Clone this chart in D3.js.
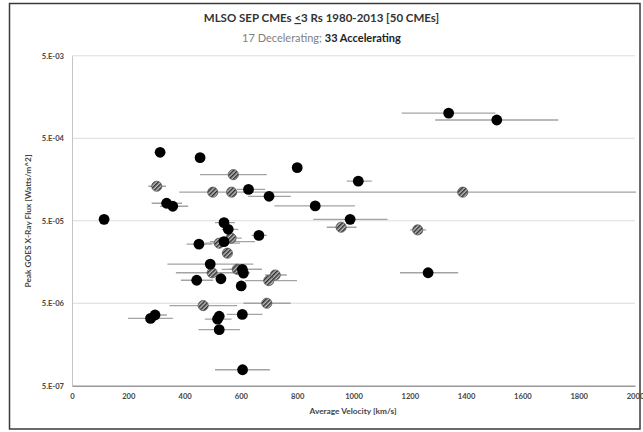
<!DOCTYPE html>
<html><head><meta charset="utf-8">
<script src="https://cdn.jsdelivr.net/npm/d3@7"></script>
<style>body{margin:0;background:#fff} svg{display:block}</style>
</head><body><svg id="c" width="643" height="432"></svg>
<script>
// Accelerating CMEs (black)
const accVel  = [313,455,800,1017,627,700,864,336,358,114,540,555,988,664,451,540,491,605,609,529,443,601,295,279,605,523,517,523,606,1265,1338,1509];
const accFlux = [3.38e-4,2.91e-4,2.20e-4,1.51e-4,1.20e-4,9.9e-5,7.56e-5,8.15e-5,7.5e-5,5.2e-5,4.74e-5,3.94e-5,5.2e-5,3.32e-5,2.6e-5,2.79e-5,1.49e-5,1.29e-5,1.16e-5,9.9e-6,9.5e-6,8.1e-6,3.6e-6,3.27e-6,3.66e-6,3.48e-6,3.21e-6,2.39e-6,7.8e-7,1.17e-5,1.01e-3,8.33e-4];
const accLo   = [null,null,null,976,586,626,719,283,313,null,508,532,857,638,407,490,339,554,null,null,387,null,270,199,550,null,472,449,508,1165,1171,1290];
const accHi   = [null,null,null,1065,686,777,1005,391,413,null,579,591,1121,692,497,650,644,675,null,null,502,null,337,358,677,null,567,597,703,1372,1504,1728];
// Decelerating CMEs (hatched)
const decVel  = [573,301,500,567,1388,956,1228,565,523,552,587,498,722,699,466,692];
const decFlux = [1.81e-4,1.31e-4,1.11e-4,1.11e-4,1.11e-4,4.17e-5,3.87e-5,3.07e-5,2.67e-5,2.02e-5,1.29e-5,1.17e-5,1.10e-5,9.4e-6,4.68e-6,5.0e-6];
const decLo   = [455,271,null,null,381,905,1201,526,472,null,532,369,686,615,346,609];
const decHi   = [692,334,null,null,2395,1011,1258,603,597,null,674,632,763,799,587,777];
// Axes
const xTicks = [0,200,400,600,800,1000,1200,1400,1600,1800,2000];
const yTicks = [5e-7,5e-6,5e-5,5e-4,5e-3];
const yTickLabels = ["5.E-07","5.E-06","5.E-05","5.E-04","5.E-03"];

const acc = accVel.map((v,i)=>({v, f:accFlux[i], lo:accLo[i], hi:accHi[i]}));
const dec = decVel.map((v,i)=>({v, f:decFlux[i], lo:decLo[i], hi:decHi[i]}));

const svg = d3.select("#c");
const font = "Lato, 'Open Sans', sans-serif";
const L=72, R=635, T=55.8, B=385.7;
const x = d3.scaleLinear().domain([0,2000]).range([L,R]);
const y = d3.scaleLog().domain([5e-7,5e-3]).range([B,T]);

svg.append("rect").attr("x",0).attr("y",0).attr("width",643).attr("height",432).attr("fill","#fff");
svg.append("rect").attr("x",9.5).attr("y",3.5).attr("width",630.5).attr("height",425.5)
  .attr("fill","none").attr("stroke","#3a3a3a").attr("stroke-width",1.5);

const defs = svg.append("defs");
const pat = defs.append("pattern").attr("id","hatch").attr("patternUnits","userSpaceOnUse")
  .attr("width",3).attr("height",3).attr("patternTransform","rotate(45)");
pat.append("rect").attr("width",3).attr("height",3).attr("fill","#bdbdbd");
pat.append("rect").attr("width",1.5).attr("height",3).attr("fill","#303030");
defs.append("clipPath").attr("id","plot").append("rect").attr("x",L).attr("y",T-2).attr("width",R-L+1).attr("height",B-T+4);

// gridlines
svg.append("g").selectAll("line").data(yTicks.slice(1)).join("line")
  .attr("x1",L).attr("x2",R).attr("y1",d=>y(d)).attr("y2",d=>y(d))
  .attr("stroke","#dcdcdc").attr("stroke-width",1);

// axes
const yAxis = svg.append("g").attr("transform",`translate(${L},0)`)
  .call(d3.axisLeft(y).tickValues(yTicks).tickFormat((d,i)=>yTickLabels[i]).tickSize(0).tickPadding(8));
yAxis.select(".domain").attr("stroke","#c4c4c4").attr("stroke-width",1);
const xAxis = svg.append("g").attr("transform",`translate(0,${B})`)
  .call(d3.axisBottom(x).tickValues(xTicks).tickFormat(d3.format("d")).tickSize(0).tickPadding(8));
xAxis.select(".domain").attr("stroke","#9a9a9a").attr("stroke-width",1.5);
svg.selectAll(".tick text").attr("font-family",font).attr("font-size",7.6).attr("font-weight","bold").attr("fill","#454545");

// error bars
const bars = svg.append("g").attr("clip-path","url(#plot)");
bars.selectAll("line").data(acc.concat(dec).filter(d=>d.lo!=null)).join("line")
  .attr("x1",d=>x(d.lo)).attr("x2",d=>x(d.hi)).attr("y1",d=>y(d.f)).attr("y2",d=>y(d.f))
  .attr("stroke","#a3a3a3").attr("stroke-width",1.3);

// markers
svg.append("g").selectAll("circle").data(dec).join("circle")
  .attr("cx",d=>x(d.v)).attr("cy",d=>y(d.f)).attr("r",5.1)
  .attr("fill","url(#hatch)").attr("stroke","#4a4a4a").attr("stroke-width",0.7);
svg.append("g").selectAll("circle").data(acc).join("circle")
  .attr("cx",d=>x(d.v)).attr("cy",d=>y(d.f)).attr("r",5.4).attr("fill","#000");

// titles
const t = svg.append("text").attr("x",321.5).attr("y",22).attr("text-anchor","middle")
  .attr("font-family",font).attr("font-size",11.5).attr("font-weight","bold").attr("fill","#333");
t.append("tspan").text("MLSO SEP CMEs ");
t.append("tspan").attr("text-decoration","underline").text("<");
t.append("tspan").text("3 Rs 1980-2013 [50 CMEs]");
const s = svg.append("text").attr("x",321.5).attr("y",42).attr("text-anchor","middle")
  .attr("font-family",font).attr("font-size",11).attr("font-weight","bold");
s.append("tspan").attr("fill","#7f7f7f").attr("font-weight","normal").text("17 Decelerating; ");
s.append("tspan").attr("fill","#222").text("33 Accelerating");

svg.append("text").attr("x",353).attr("y",414).attr("text-anchor","middle")
  .attr("font-family",font).attr("font-size",8.3).attr("font-weight","bold").attr("fill","#454545")
  .text("Average Velocity [km/s]");
svg.append("text").attr("transform","translate(31,221) rotate(-90)").attr("text-anchor","middle")
  .attr("font-family",font).attr("font-size",8.3).attr("font-weight","bold").attr("fill","#454545")
  .text("Peak GOES X-Ray Flux [Watts/m^2]");
</script></body></html>
